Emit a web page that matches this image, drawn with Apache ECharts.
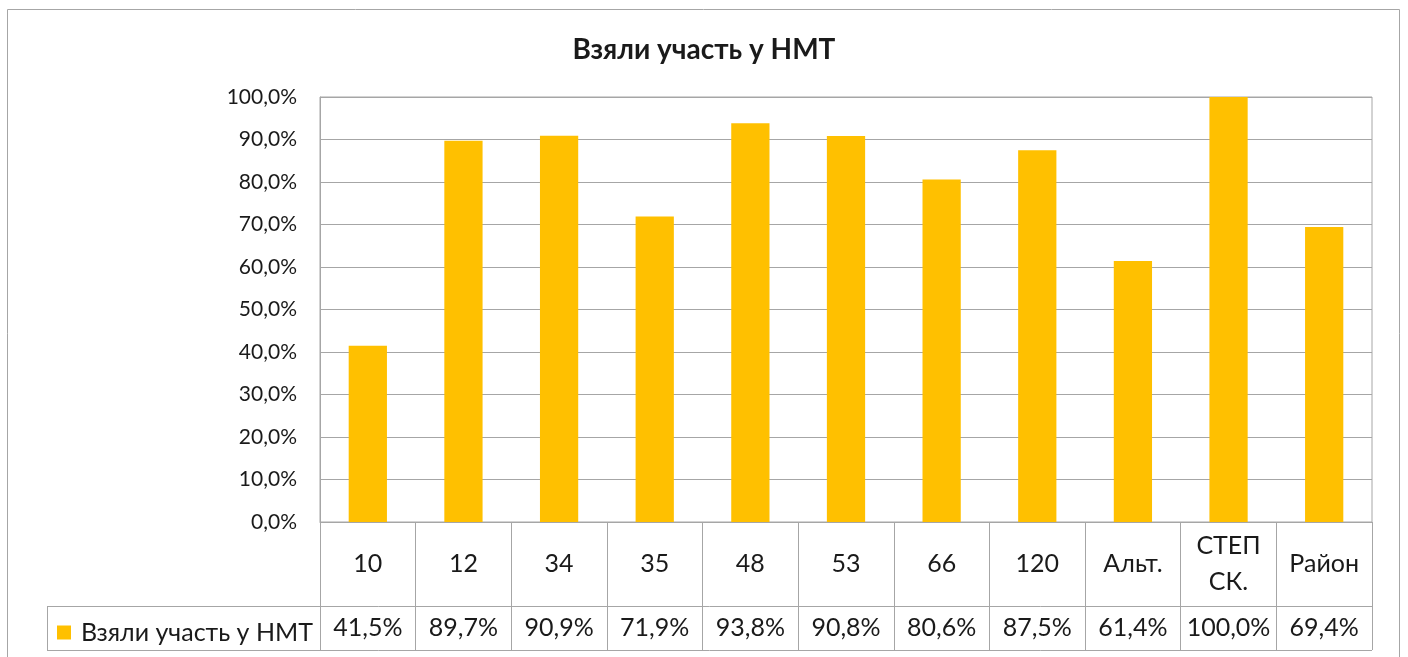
<!DOCTYPE html>
<html>
<head>
<meta charset="utf-8">
<script src="https://cdn.jsdelivr.net/npm/echarts@6/dist/echarts.min.js"></script>
<style>
  html, body { margin: 0; padding: 0; background: #fff; }
  #chart { width: 1408px; height: 657px; }
</style>
</head>
<body>
<div id="chart"></div>
<script>
// дані діаграми
var categories = ['10', '12', '34', '35', '48', '53', '66', '120', 'Альт.', 'СТЕП\nСК.', 'Район'];
var participated = [0.415, 0.897, 0.909, 0.719, 0.938, 0.908, 0.806, 0.875, 0.614, 1.0, 0.694];
var seriesName = 'Взяли участь у НМТ';
var yTicks = [0, 0.1, 0.2, 0.3, 0.4, 0.5, 0.6, 0.7, 0.8, 0.9, 1.0];

var FONT = 'Lato';
var TXT = '#1a1a1a';
var LINE = '#a6a6a6';

function pct(v) {
    return (v * 100).toFixed(1).replace('.', ',') + '%';
}

// розмітка
var gridL = 320, gridR = 1372, gridT = 97, gridB = 522;
var row1 = 84, row2 = 44;
var tableL = 47;

var chart = echarts.init(document.getElementById('chart'));
var option = {
    animation: false,
    title: {
        text: seriesName,
        left: 'center',
        top: 31,
        textStyle: { fontFamily: FONT, fontWeight: 'bold', fontSize: 28, color: TXT }
    },
    legend: {
        data: [seriesName],
        left: 57,
        top: 620,
        padding: 0,
        icon: 'rect',
        itemWidth: 14,
        itemHeight: 14,
        textStyle: { fontFamily: FONT, fontSize: 25, color: TXT, lineHeight: 14, padding: [0, 0, 0, 5] }
    },
    grid: {
        left: gridL, right: 1408 - gridR, top: gridT, bottom: 657 - gridB,
        show: true, borderColor: LINE, borderWidth: 1
    },
    xAxis: [{
        type: 'category',
        data: categories,
        position: 'bottom',
        axisLine: { lineStyle: { color: LINE } },
        axisTick: { show: true, length: row1 + row2, lineStyle: { color: LINE } },
        axisLabel: {
            interval: 0,
            margin: 42,
            verticalAlign: 'middle',
            lineHeight: 36,
            fontFamily: FONT, fontSize: 25, color: TXT
        }
    }, {
        type: 'category',
        data: categories,
        position: 'bottom',
        offset: row1,
        axisLine: { show: false },
        axisTick: { show: false },
        axisLabel: {
            interval: 0,
            margin: 22,
            verticalAlign: 'middle',
            fontFamily: FONT, fontSize: 25, color: TXT,
            formatter: function (v, i) { return pct(participated[i]); }
        }
    }],
    yAxis: {
        type: 'value',
        min: yTicks[0],
        max: yTicks[yTicks.length - 1],
        interval: 0.1,
        axisLine: { show: true, lineStyle: { color: LINE } },
        axisTick: { show: false },
        splitLine: { lineStyle: { color: LINE } },
        axisLabel: {
            margin: 23,
            fontFamily: FONT, fontSize: 21, color: TXT,
            formatter: function (v) { return pct(v); }
        }
    },
    series: [{
        name: seriesName,
        type: 'bar',
        data: participated,
        barWidth: '40%',
        itemStyle: { color: '#FFC000' }
    }],
    graphic: [
        { type: 'rect', shape: { x: 7.5, y: 9.5, width: 1392, height: 700 },
          style: { fill: 'none', stroke: LINE, lineWidth: 1 }, silent: true },
        { type: 'line', shape: { x1: tableL, y1: gridB + row1 + 0.5, x2: gridR, y2: gridB + row1 + 0.5 },
          style: { stroke: LINE, lineWidth: 1 } },
        { type: 'line', shape: { x1: tableL, y1: gridB + row1 + row2 + 0.5, x2: gridR, y2: gridB + row1 + row2 + 0.5 },
          style: { stroke: LINE, lineWidth: 1 } },
        { type: 'line', shape: { x1: tableL + 0.5, y1: gridB + row1, x2: tableL + 0.5, y2: gridB + row1 + row2 },
          style: { stroke: LINE, lineWidth: 1 } }
    ]
};
chart.setOption(option);
</script>
</body>
</html>
